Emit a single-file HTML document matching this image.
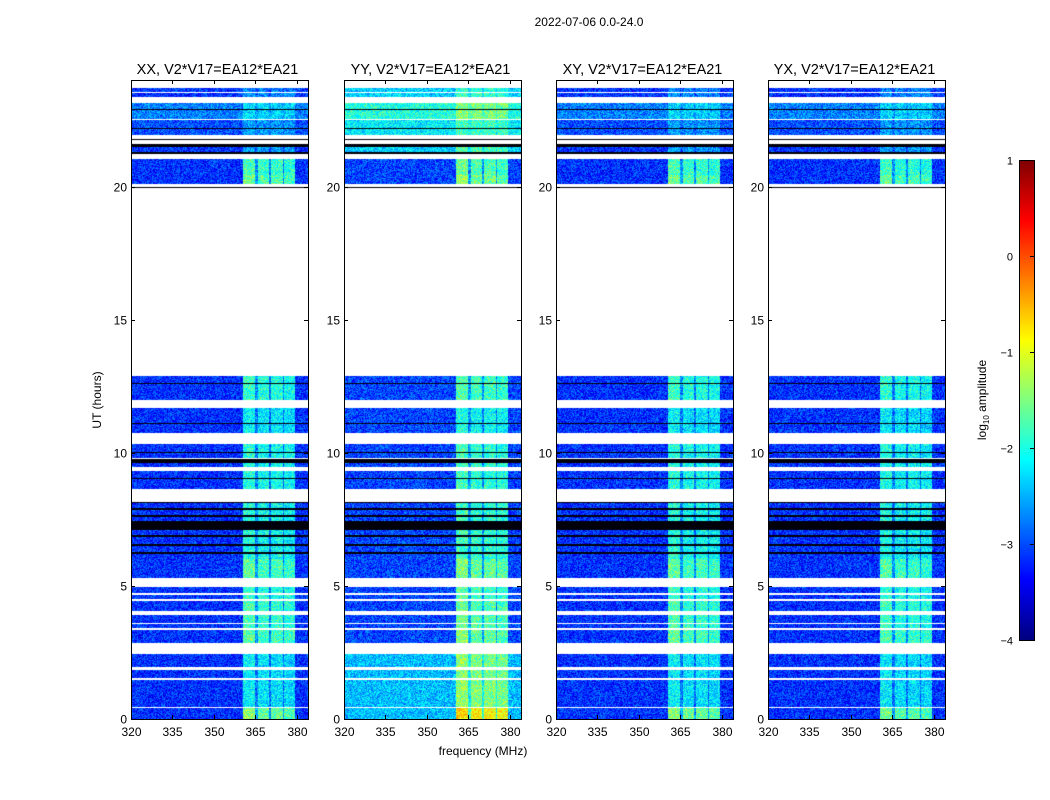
<!DOCTYPE html>
<html><head><meta charset="utf-8">
<style>
html,body{margin:0;padding:0;background:#fff;}
#wrap{position:relative;width:1050px;height:800px;overflow:hidden;font-family:"Liberation Sans",sans-serif;}
canvas{position:absolute;}
svg{position:absolute;left:0;top:0;}
</style></head>
<body>
<div id="wrap">
<canvas id="c0" width="177" height="639" style="left:131px;top:80px"></canvas>
<canvas id="c1" width="177" height="639" style="left:344px;top:80px"></canvas>
<canvas id="c2" width="177" height="639" style="left:556px;top:80px"></canvas>
<canvas id="c3" width="177" height="639" style="left:768px;top:80px"></canvas>
<canvas id="cb" width="15" height="480" style="left:1019px;top:160px"></canvas>
<svg id="ov" width="1050" height="800"></svg>
</div>
<script>
// ---- data ----
const panelTitles = ["XX, V2*V17=EA12*EA21","YY, V2*V17=EA12*EA21","XY, V2*V17=EA12*EA21","YX, V2*V17=EA12*EA21"];
const panelBase = [-3.15,-3.05,-3.15,-3.15];
const panelRfiScale = [1.0,1.05,1.0,0.95];
const yyBoostStart = [0, 21.3];
const yyBoostEnd = [2.45, 23.8];
const yyBoostVal = [0.6, 0.7];
const xTicks = [320,335,350,365,380];
const yTicks = [0,5,10,15,20];
const cbTicks = [1,0,-1,-2,-3,-4];
// time segments (hours): kind d=data, k=flagged dark
const segStart = [0,0.45,1.55,1.95,2.85,3.4,3.62,4.05,4.52,4.72,5.3,6.0,6.2,6.27,6.5,6.58,6.85,6.92,7.1,7.42,7.6,7.68,7.85,7.92,8.1,8.65,9.03,9.06,9.47,9.62,9.8,10.0,10.03,10.75,11.08,11.11,11.98,12.6,12.63,19.95,20.08,20.45,21.23,21.3,21.5,21.75,21.95,22.15,22.18,22.55,22.88,22.91,23.35,23.55];
const segEnd   = [0.4,1.45,1.85,2.45,3.35,3.55,3.9,4.45,4.65,4.95,6.0,6.2,6.27,6.5,6.58,6.85,6.92,7.1,7.42,7.6,7.68,7.85,7.92,8.1,8.15,9.03,9.06,9.33,9.6,9.78,10.0,10.03,10.34,11.08,11.11,11.68,12.6,12.63,12.9,20.0,20.45,21.05,21.28,21.5,21.58,21.78,22.15,22.18,22.5,22.88,22.91,23.15,23.5,23.7];
const segKind  = ["d","d","d","d","d","d","d","d","d","d","d","d","k","d","k","d","k","d","k","d","k","d","k","d","k","d","k","d","d","k","d","k","d","d","k","d","d","k","d","k","d","d","k","d","k","k","d","k","d","d","k","d","d","d"];
const segRfi   = [1.7,1.0,1.0,1.0,1.5,1.4,1.4,1.4,1.3,1.3,1.5,1.2,0,1.2,0,1.2,0,1.2,0,1.2,0,1.2,0,1.2,0,1.2,0,1.2,1.2,0,1.2,0,1.2,1.0,0,1.0,1.3,0,1.3,0,1.6,1.4,0,0.6,0,0,0.4,0,0.4,0.45,0,0.45,0.5,0.4];
const segBase  = [0,0,0,0,0,0,0,0,0,0,0,0,0,0,0,0,0,0,0,0,0,0,0,0,0,0,0,0,0,0,0,0,0,0,0,0,0,0,0,0,0,0,0,0,0,0,0.15,0,0.15,0.4,0,0.4,0,0];
// frequency bands (MHz) with RFI weight
const bandLo = [360.4,365,366,370,370.8,374.8,375.5];
const bandHi = [365,366,370,370.8,374.8,375.5,379.4];
const bandW  = [1.0,0.35,0.9,0.3,0.9,0.3,0.85];

const X0=[131,344,556,768], Y0=80, W=177, H=639;
const fMin=320,fMax=384;
function xScale(f,i){return X0[i]+(f-fMin)*W/(fMax-fMin);}
function yScale(h){return Y0+(24-h)*H/24;}
function cl(v){return Math.max(0,Math.min(1,v));}
function jet(t){return [cl(1.5-Math.abs(4*t-3)),cl(1.5-Math.abs(4*t-2)),cl(1.5-Math.abs(4*t-1))];}
function texture(x,y,p){let n=Math.sin(x*12.9898+y*78.233+p*37.7)*43758.5453;return n-Math.floor(n)-0.5;}

for(let p=0;p<4;p++){
  const ctx=document.getElementById('c'+p).getContext('2d');
  const img=ctx.createImageData(W,H);
  for(let py=0;py<H;py++){
    const h=24-(py+0.5)*24/H;
    let s=-1;
    for(let k=0;k<segStart.length;k++){if(h>=segStart[k]&&h<segEnd[k]){s=k;break;}}
    let boost=0;
    if(p===1){for(let b=0;b<yyBoostStart.length;b++){if(h>=yyBoostStart[b]&&h<yyBoostEnd[b])boost=yyBoostVal[b];}}
    for(let px=0;px<W;px++){
      const o=(py*W+px)*4;
      let r=255,g=255,bl=255;
      if(s>=0){
        if(segKind[s]==="k"){r=0;g=0;bl=10;}
        else{
          const f=fMin+(px+0.5)*(fMax-fMin)/W;
          let w=0;
          for(let b=0;b<bandLo.length;b++){if(f>=bandLo[b]&&f<bandHi[b])w=bandW[b];}
          const v=panelBase[p]+segBase[s]+boost+w*segRfi[s]*panelRfiScale[p]+texture(px,py,p)*0.9;
          const c=jet(cl((v+4)/5));
          r=c[0]*255;g=c[1]*255;bl=c[2]*255;
        }
      }
      img.data[o]=r;img.data[o+1]=g;img.data[o+2]=bl;img.data[o+3]=255;
    }
  }
  ctx.putImageData(img,0,0);
}
// colorbar
{
  const ctx=document.getElementById('cb').getContext('2d');
  for(let y=0;y<480;y++){const c=jet(1-(y+0.5)/480);ctx.fillStyle=`rgb(${c[0]*255|0},${c[1]*255|0},${c[2]*255|0})`;ctx.fillRect(0,y,15,1);}
}
// overlay
const NS="http://www.w3.org/2000/svg";
const ov=document.getElementById('ov');
function mk(tag,attrs,txt){const e=document.createElementNS(NS,tag);for(const k in attrs)e.setAttribute(k,attrs[k]);if(txt!==undefined)e.textContent=txt;ov.appendChild(e);return e;}
let e;
e=mk('text',{x:589,y:26,'font-size':12,'text-anchor':'middle',fill:'#000'},'2022-07-06 0.0-24.0');


for(let p=0;p<4;p++){
  e=mk('rect',{x:X0[p]+0.5,y:Y0+0.5,width:W,height:H,fill:'none',stroke:'#000','stroke-width':1});
  
  
  e=mk('text',{x:X0[p]+W/2-2,y:74,'font-size':14.5,'text-anchor':'middle',fill:'#000'},panelTitles[p]);
  
  
  for(const t of xTicks){
    const x=Math.round(xScale(t,p))+0.5;
    mk('line',{x1:x,x2:x,y1:Y0+H,y2:Y0+H-4,stroke:'#000'});
    mk('line',{x1:x,x2:x,y1:Y0,y2:Y0+4,stroke:'#000'});
    e=mk('text',{x:x,y:Y0+H+17,'font-size':12,'text-anchor':'middle',fill:'#000'},String(t));
    
    
  }
  for(const t of yTicks){
    const y=Math.round(yScale(t))+0.5;
    mk('line',{x1:X0[p],x2:X0[p]+4,y1:y,y2:y,stroke:'#000'});
    mk('line',{x1:X0[p]+W,x2:X0[p]+W-4,y1:y,y2:y,stroke:'#000'});
    e=mk('text',{x:X0[p]-4,y:y+4,'font-size':12,'text-anchor':'end',fill:'#000'},String(t));
    
    
  }
}
e=mk('text',{x:0,y:0,'font-size':12,'text-anchor':'middle',fill:'#000',transform:'translate(101,400) rotate(-90)'},'UT (hours)');


e=mk('text',{x:483,y:755,'font-size':12,'text-anchor':'middle',fill:'#000'},'frequency (MHz)');


e=mk('rect',{x:1019.5,y:160.5,width:15,height:480,fill:'none',stroke:'#000'});


for(const t of cbTicks){
  const y=Math.round(160+(1-t)*96)+0.5;
  mk('line',{x1:1030,x2:1034,y1:y,y2:y,stroke:'#000'});
  e=mk('text',{x:1013,y:y+4,'font-size':11,'text-anchor':'end',fill:'#000'},(t<0?'\u2212':'')+Math.abs(t));
  
  
}
e=mk('text',{x:0,y:0,'font-size':12,'text-anchor':'middle',fill:'#000',transform:'translate(986,400) rotate(-90)'});


e.innerHTML='log<tspan font-size="8" dy="3">10</tspan><tspan dy="-3"> amplitude</tspan>';
</script>
</body></html>
